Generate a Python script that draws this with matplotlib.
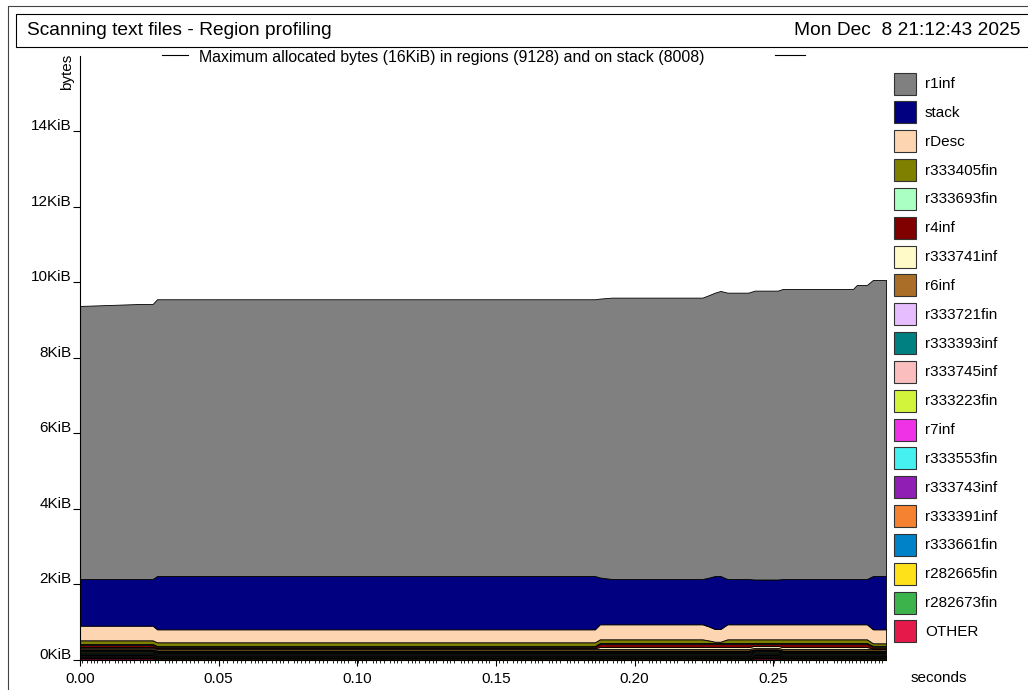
import matplotlib
matplotlib.use("Agg")
import matplotlib.pyplot as plt
from matplotlib.patches import Rectangle
from matplotlib.transforms import blended_transform_factory

plt.rcParams['font.family'] = ['Liberation Sans', 'DejaVu Sans']

# ---------------- texts ----------------
title = "Scanning text files - Region profiling"
date_text = "Mon Dec  8 21:12:43 2025"
subtitle = "Maximum allocated bytes (16KiB) in regions (9128) and on stack (8008)"
x_label = "seconds"
y_label = "bytes"

# ---------------- data (bytes) ----------------
times = [0.0000, 0.0216, 0.0262, 0.0278, 0.1857, 0.1875, 0.1918, 0.2245, 0.2270,
         0.2290, 0.2310, 0.2335, 0.2410, 0.2434, 0.2517, 0.2535, 0.2788, 0.2802,
         0.2838, 0.2860, 0.2907]

r1inf      = [7406, 7460, 7460, 7507, 7507, 7565, 7632, 7632, 7664, 7686, 7732,
              7767, 7767, 7836, 7836, 7868, 7868, 7976, 7976, 8031, 8031]
stack      = [1267, 1267, 1267, 1446, 1446, 1270, 1229, 1229, 1335, 1438, 1438,
              1229, 1229, 1215, 1215, 1229, 1229, 1229, 1229, 1446, 1446]
rDesc      = [396, 396, 396, 352, 352, 407, 407, 407, 375, 344, 344,
              407, 407, 407, 407, 407, 407, 407, 407, 379, 379]
r333405fin = [100, 100, 100, 100, 100, 100, 100, 100, 67, 35, 35,
              100, 100, 100, 100, 100, 100, 100, 100, 70, 70]
r333693fin = [26, 26, 26, 26, 26, 26, 26, 26, 26, 26, 26,
              26, 26, 26, 26, 26, 26, 26, 26, 26, 26]
r4inf      = [52, 52, 52, 32, 32, 86, 86, 86, 86, 86, 86,
              86, 86, 52, 52, 86, 86, 86, 86, 40, 40]
r333741inf = [26, 26, 26, 26, 26, 53, 53, 53, 53, 53, 53,
              53, 53, 53, 53, 53, 53, 53, 53, 21, 21]
r6inf      = [39, 39, 39, 39, 39, 39, 39, 39, 39, 39, 39,
              39, 39, 39, 39, 39, 39, 39, 39, 39, 39]
r333721fin = [20, 20, 20, 20, 20, 20, 20, 20, 20, 20, 20,
              20, 20, 20, 20, 20, 20, 20, 20, 20, 20]
r333393inf = [26, 26, 26, 26, 26, 26, 26, 26, 26, 26, 26,
              26, 26, 26, 26, 26, 26, 26, 26, 26, 26]
r333745inf = [20, 20, 20, 20, 20, 20, 20, 20, 20, 20, 20,
              20, 20, 20, 20, 20, 20, 20, 20, 20, 20]
r333223fin = [26, 26, 26, 26, 26, 26, 26, 26, 26, 26, 26,
              26, 26, 26, 26, 26, 26, 26, 26, 26, 26]
r7inf      = [20, 20, 20, 20, 20, 20, 20, 20, 20, 20, 20,
              20, 20, 20, 20, 20, 20, 20, 20, 20, 20]
r333553fin = [26, 26, 26, 26, 26, 26, 26, 26, 26, 26, 26,
              26, 26, 26, 26, 26, 26, 26, 26, 26, 26]
r333743inf = [20, 20, 20, 20, 20, 20, 20, 20, 20, 20, 20,
              20, 20, 20, 20, 20, 20, 20, 20, 20, 20]
r333391inf = [26, 26, 26, 26, 26, 26, 26, 26, 26, 26, 26,
              26, 26, 26, 26, 26, 26, 26, 26, 26, 26]
r333661fin = [20, 20, 20, 20, 20, 20, 20, 20, 20, 20, 20,
              20, 20, 20, 20, 20, 20, 20, 20, 20, 20]
r282665fin = [20, 20, 20, 20, 20, 20, 20, 20, 20, 20, 20,
              20, 20, 20, 20, 20, 20, 20, 20, 20, 20]
r282673fin = [20, 20, 20, 20, 20, 20, 20, 20, 20, 20, 20,
              20, 20, 20, 20, 20, 20, 20, 20, 20, 20]
OTHER      = [34, 34, 34, 0, 0, 0, 0, 0, 0, 0, 0,
              0, 0, 34, 34, 0, 0, 0, 0, 0, 0]

# legend order (top of stack first)
band_names = ["r1inf", "stack", "rDesc", "r333405fin", "r333693fin", "r4inf",
              "r333741inf", "r6inf", "r333721fin", "r333393inf", "r333745inf",
              "r333223fin", "r7inf", "r333553fin", "r333743inf", "r333391inf",
              "r333661fin", "r282665fin", "r282673fin", "OTHER"]
band_values = [r1inf, stack, rDesc, r333405fin, r333693fin, r4inf, r333741inf,
               r6inf, r333721fin, r333393inf, r333745inf, r333223fin, r7inf,
               r333553fin, r333743inf, r333391inf, r333661fin, r282665fin,
               r282673fin, OTHER]
band_colors = ["#808080", "#000080", "#FDD5B1", "#808000", "#AAFFC3", "#800000",
               "#FFFAC8", "#AA6E28", "#E6BEFF", "#008080", "#FABEBE", "#D2F53C",
               "#F032E6", "#46F0F0", "#911EB4", "#F58231", "#0082C8", "#FFE119",
               "#3CB44B", "#E6194B"]

# sample times (ms) shown as marks along the time axis
sample_ms = [0.9, 2.4, 3.8, 5.1, 6.3, 7.9, 9.0, 10.4, 12.6, 13.8, 15.0, 16.7, 18.1,
             19.3, 21.5, 22.6, 24.0, 25.4, 26.9, 28.3, 30.6, 32.0, 33.1, 34.7, 36.9,
             38.2, 39.5, 41.0, 42.4, 44.8, 46.0, 47.3, 48.7, 50.2, 51.6, 53.0, 55.3,
             56.5, 57.9, 59.4, 61.7, 63.0, 64.2, 65.8, 67.1, 69.4, 70.7, 72.0, 73.3,
             74.9, 77.2, 78.4, 79.8, 81.1, 82.6, 84.9, 86.3, 87.5, 89.0, 91.3, 92.7,
             94.0, 95.3, 96.8, 99.1, 100.4, 101.8, 103.2, 105.5, 106.8, 108.1, 109.5,
             111.9, 113.2, 114.4, 115.9, 118.2, 119.6, 120.9, 122.2, 124.6, 125.9,
             127.3, 128.5, 130.8, 132.2, 133.5, 135.0, 137.3, 138.6, 139.8, 141.3,
             143.6, 144.9, 146.3, 147.6, 150.0, 151.3, 152.6, 154.0, 156.3, 157.7,
             159.0, 160.4, 162.7, 164.1, 165.3, 166.8, 169.1, 170.4, 171.8, 173.1,
             175.5, 176.8, 178.1, 179.5, 181.9, 183.2, 184.5, 185.9, 187.2, 188.6,
             190.0, 192.3, 193.6, 195.0, 196.3, 198.7, 200.0, 201.4, 202.7, 205.1,
             206.4, 207.8, 209.1, 211.5, 212.8, 214.2, 215.5, 217.9, 219.2, 220.6,
             221.9, 224.3, 225.6, 227.0, 228.3, 229.7, 231.0, 233.4, 234.7, 236.1,
             237.4, 239.8, 241.1, 242.5, 243.8, 246.2, 247.5, 248.9, 250.2, 252.6,
             253.9, 255.3, 256.6, 259.0, 260.3, 261.7, 263.0, 265.4, 266.7, 268.1,
             269.4, 271.8, 273.1, 274.5, 275.8, 277.2, 278.5, 279.9, 281.3, 282.6,
             284.0, 285.3, 286.7, 288.0, 289.4]

ytick_vals = [0, 2048, 4096, 6144, 8192, 10240, 12288, 14336]
ytick_labels = ["0KiB", "2KiB", "4KiB", "6KiB", "8KiB", "10KiB", "12KiB", "14KiB"]
xtick_vals = [0.00, 0.05, 0.10, 0.15, 0.20, 0.25]
xtick_labels = ["0.00", "0.05", "0.10", "0.15", "0.20", "0.25"]
y_max = 16384

FS = 11
SUB_FS = 11.4
TITLE_FS = 13.8

# ---------------- figure ----------------
W, H = 1028, 690
fig = plt.figure(figsize=(W / 100, H / 100), dpi=100)

ax = fig.add_axes([80 / W, (H - 659.5) / H, 806 / W, 604 / H])
ax.stackplot(times, *band_values[::-1], colors=band_colors[::-1],
             edgecolor="black", linewidth=0.6)
ax.set_xlim(0, times[-1])
ax.set_ylim(0, y_max)
for s in ("top", "right"):
    ax.spines[s].set_visible(False)
for s in ("left", "bottom"):
    ax.spines[s].set_linewidth(0.8)

ax.set_yticks(ytick_vals)
ax.tick_params(axis="y", direction="out", length=5, width=0.8, labelleft=False)
ytrans = blended_transform_factory(ax.transAxes, ax.transData)
for v, lab in zip(ytick_vals, ytick_labels):
    ax.annotate(lab, xy=(0, v), xycoords=ytrans, xytext=(-6, 0.6),
                textcoords="offset points", ha="right", va="baseline", fontsize=FS)

ax.set_xticks(xtick_vals)
ax.set_xticklabels(xtick_labels)
ax.tick_params(axis="x", direction="out", length=4.5, width=0.8, pad=4.5, labelsize=FS)

strans = blended_transform_factory(ax.transData, ax.transAxes)
ax.vlines([m / 1000 for m in sample_ms], -0.006, 0, transform=strans,
          colors="black", linewidth=0.6, clip_on=False)

# ---------------- overlay in pixel coordinates ----------------
ov = fig.add_axes([0, 0, 1, 1])
ov.set_xlim(0, W)
ov.set_ylim(H, 0)
ov.axis("off")
ov.patch.set_alpha(0)

ov.add_patch(Rectangle((8, 6), 1100, 800, fill=False, edgecolor="#444444", linewidth=0.8))
ov.add_patch(Rectangle((16, 14), 1100, 32.7, fill=False, edgecolor="black", linewidth=0.8))
ov.text(27, 30.5, title, fontsize=TITLE_FS, ha="left", va="center")
ov.text(1020, 30.5, date_text, fontsize=TITLE_FS, ha="right", va="center")

ov.plot([162, 188], [55, 55], color="black", linewidth=0.8)
ov.plot([775, 805], [55, 55], color="black", linewidth=0.8)
ov.text(199, 57.5, subtitle, fontsize=SUB_FS, ha="left", va="center")

ov.text(67, 72, y_label, fontsize=FS, ha="center", va="center", rotation=90)
ov.text(939, 678, x_label, fontsize=FS, ha="center", va="center")

for i, (name, col) in enumerate(zip(band_names, band_colors)):
    cy = 83.5 + 28.84 * i
    ov.add_patch(Rectangle((893.5, cy - 11), 22.5, 22, facecolor=col,
                           edgecolor="#333333", linewidth=0.8))
    ov.text(925, cy + 0.5, name, fontsize=FS, ha="left", va="center")

fig.savefig("out.png", dpi=100)
